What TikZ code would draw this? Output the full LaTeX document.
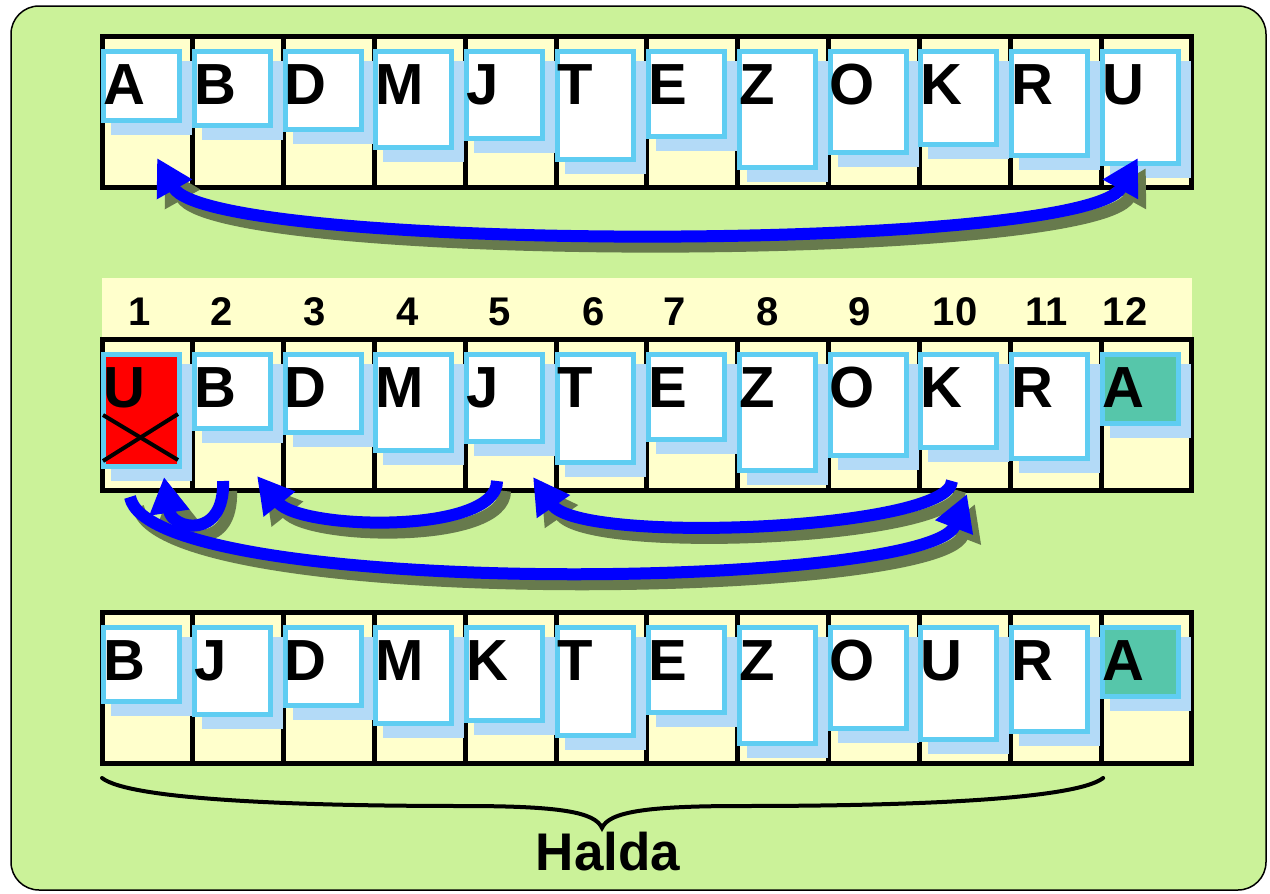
\documentclass[tikz,border=0pt]{standalone}
\usepackage{fontspec}
\setmainfont{Liberation Sans}
\usetikzlibrary{arrows.meta}
\definecolor{bggreen}{RGB}{203,242,153}
\definecolor{cellyellow}{RGB}{255,255,204}
\definecolor{cardedge}{RGB}{95,205,242}
\definecolor{cardshade}{RGB}{179,218,247}
\definecolor{mint}{RGB}{86,198,170}
\definecolor{arrowshade}{RGB}{103,122,77}
\definecolor{arrowblue}{RGB}{0,0,255}
\def\hA{74}\def\hB{79}\def\hD{83}\def\hE{90}\def\hJ{92}\def\hK{98}
\def\hM{101}\def\hO{106}\def\hR{109}\def\hT{113}\def\hU{117}\def\hZ{121}
\newcommand\cardrow[3]{%
  \foreach \i in {1,...,12}{%
    \node[cell] (#1c\i) at ({102+90.83*(\i-0.5)}, #2+75.5) {};
  }%
  \foreach \L/\f [count=\i] in {#3}{%
    \pgfmathsetmacro\h{\csname h\L\endcsname}%
    \pgfmathsetmacro\xl{101+90.83*(\i-1)}%
    \fill[cardshade] (\xl+10, #2+25) rectangle ++(81, \h);
    \node[card, fill=\f, minimum height=\h-5] (#1k\i) at (\xl, #2+13) {};
    \node[letter] (#1l\i) at ([shift={(2,55)}]#1k\i.north west) {\L};
  }%
}
\newcommand\rowarrows[1]{%
  \draw[#1, <->] (t1a) .. controls +(53,95) and +(-53,95) .. (t1b);
  \draw[#1, ->] (lu) .. controls +(20,103) and +(-37,96) .. (lk);
  \draw[#1, ->] (hb) .. controls +(2,59) and +(8,53) .. (hu);
  \draw[#1, ->] (jt) .. controls +(0,54) and +(43,54) .. (jb);
  \draw[#1, ->] (kt) .. controls +(-2,49) and +(47,68) .. (kj);
}
\begin{document}
\begin{tikzpicture}[x=1pt,y=-1pt,
  >={Triangle[length=36pt,width=38pt]},
  cell/.style={draw=black, line width=5pt, fill=cellyellow, minimum width=90.83pt,
    minimum height=151pt, inner sep=0pt, outer sep=0pt},
  card/.style={draw=cardedge, line width=5pt, minimum width=76pt, inner sep=0pt,
    outer sep=2.5pt, anchor=north west},
  letter/.style={font=\fontsize{58}{58}\selectfont\bfseries, inner sep=0pt, anchor=base west},
  num/.style={font=\fontsize{40}{40}\selectfont\bfseries, inner sep=0pt, anchor=base},
  arrowline/.style={draw=arrowblue, line width=12pt, line join=round},
  arrowshadow/.style={draw=arrowshade, line width=12pt, line join=round,
    transform canvas={shift={(8pt,-10pt)}}},
  bracestyle/.style={draw=black, line width=4pt, line cap=round}
]
\useasboundingbox (0,0) rectangle (1270,894);
\fill[bggreen, draw=black, line width=1.5pt, rounded corners=28pt] (11,6) rectangle (1266,890);

% row 1
\cardrow{r1}{36}{A/white,B/white,D/white,M/white,J/white,T/white,E/white,Z/white,O/white,K/white,R/white,U/white}

% index band
\fill[cellyellow] (102,278) rectangle (1192,339);
\foreach \x [count=\i] in {140,222,315,408,500,594,675,768,860,955,1047,1125}{
  \node[num] (n\i) at (\x,325) {\i};
}

% row 2
\cardrow{r2}{339}{U/red,B/white,D/white,M/white,J/white,T/white,E/white,Z/white,O/white,K/white,R/white,A/mint}
\draw[line width=4pt] ([shift={(2,63)}]r2k1.north west) -- ([shift={(77,108)}]r2k1.north west);
\draw[line width=4pt] ([shift={(2,109)}]r2k1.north west) -- ([shift={(77,62)}]r2k1.north west);

% row 3
\cardrow{r3}{612}{B/white,J/white,D/white,M/white,K/white,T/white,E/white,Z/white,O/white,U/white,R/white,A/mint}

% arrow end points
\coordinate (t1a) at ([shift={(9.6,-29)}]r1c1.south);
\coordinate (t1b) at ([shift={(-8.6,-29)}]r1c12.south);
\coordinate (lu) at ([shift={(-17.4,7)}]r2c1.south);
\coordinate (lk) at ([shift={(2.1,4)}]r2c10.south);
\coordinate (hb) at ([shift={(-15.2,-9)}]r2c2.south);
\coordinate (hu) at ([shift={(16.6,-13)}]r2c1.south);
\coordinate (jt) at ([shift={(-13.7,-9)}]r2c5.south);
\coordinate (jb) at ([shift={(18.8,-14)}]r2c2.south);
\coordinate (kt) at ([shift={(-12.9,-9)}]r2c10.south);
\coordinate (kj) at ([shift={(22.3,-13)}]r2c5.south);

\rowarrows{arrowshadow}
\rowarrows{arrowline}

% brace
\coordinate (bl) at ([shift={(0,15)}]r3c1.south west);
\coordinate (br) at ([shift={(2,15)}]r3c11.south east);
\draw[bracestyle] (bl) .. controls +(28,22) and (300,806) .. (463,806)
  .. controls (560,806) and (595,812) .. (602,828)
  .. controls (609,812) and (645,806) .. (742,806)
  .. controls (905,806) and +(-28,22) .. (br);
\node[font=\fontsize{53}{53}\selectfont\bfseries, inner sep=0pt, anchor=base] (halda) at (608,870) {Halda};
\end{tikzpicture}
\end{document}
